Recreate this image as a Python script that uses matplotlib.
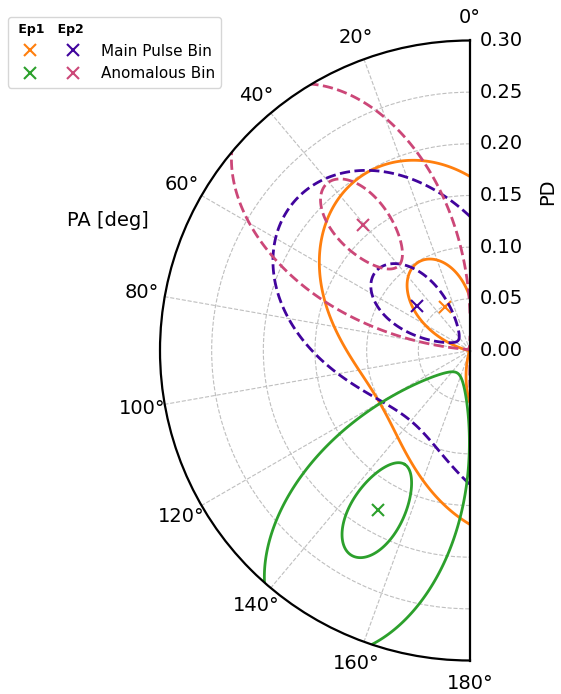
import numpy as np
import matplotlib
matplotlib.use("Agg")
import matplotlib.pyplot as plt
from matplotlib.lines import Line2D
from matplotlib.legend_handler import HandlerTuple

# Polarization results: PA in degrees, PD as a fraction, 1-sigma error on Q/U
bin_labels = ["Main Pulse Bin", "Anomalous Bin"]
ep1_pa = [30.0, 150.0]
ep1_pd = [0.049, 0.178]
ep1_sigma = [0.050, 0.051]
ep2_pa = [50.0, 40.5]
ep2_pd = [0.067, 0.160]
ep2_sigma = [0.052, 0.0528]
sigma_levels = [1.0, 3.0]

ep1_colors = ["#ff7f0e", "#2ca02c"]
ep2_colors = ["#41049d", "#cc4778"]

theta_ticks = [0, 20, 40, 60, 80, 100, 120, 140, 160, 180]
r_ticks = [0.00, 0.05, 0.10, 0.15, 0.20, 0.25, 0.30]
r_max = 0.30

W, H = 561, 694
fig = plt.figure(figsize=(W / 100, H / 100), dpi=100)
# the half-disk sits in the middle of a square axes box (pixel units below)
ax = fig.add_axes([5 / W, 33.5 / H, 620 / W, 620 / H], projection="polar")
ax.set_theta_zero_location("N")
ax.set_theta_direction(1)
ax.set_thetamin(0)
ax.set_thetamax(180)

# Q/U plane sampled on the polar grid (PA is half the Stokes angle)
th = np.linspace(0, np.pi, 1441)
rr = np.linspace(0, 0.36, 721)
TH, RR = np.meshgrid(th, rr)
Q = RR * np.cos(2 * TH)
U = RR * np.sin(2 * TH)


def draw_bin(pa, pd, sig, color, ls):
    q0 = pd * np.cos(2 * np.radians(pa))
    u0 = pd * np.sin(2 * np.radians(pa))
    dist = np.hypot(Q - q0, U - u0) / sig
    ax.contour(TH, RR, dist, levels=sigma_levels, colors=color,
               linestyles=ls, linewidths=2)
    ax.plot(np.radians(pa), pd, ls="none", marker="x", color=color,
            ms=9, mew=1.5)


for i in range(2):
    draw_bin(ep1_pa[i], ep1_pd[i], ep1_sigma[i], ep1_colors[i], "-")
    draw_bin(ep2_pa[i], ep2_pd[i], ep2_sigma[i], ep2_colors[i], "--")

ax.set_rlim(0, r_max)
ax.set_rticks(r_ticks)
ax.set_yticklabels([f"{v:.2f}" for v in r_ticks])
ax.set_thetagrids(theta_ticks, labels=[f"{t}°" for t in theta_ticks])
ax.grid(True, ls="--", color="0.75", lw=0.8)
ax.tick_params(labelsize=14)
ax.tick_params(axis="x", pad=6)
for sp in ax.spines.values():
    sp.set_linewidth(1.6)

fig.text(108 / W, 1 - 220 / H, "PA [deg]", fontsize=14, ha="center", va="center")
fig.text(548 / W, 1 - 192 / H, "PD", fontsize=14, rotation=90,
         ha="center", va="center")

handles = []
for i in range(2):
    h1 = Line2D([], [], ls="none", marker="x", color=ep1_colors[i], ms=9, mew=1.5)
    h2 = Line2D([], [], ls="none", marker="x", color=ep2_colors[i], ms=9, mew=1.5)
    handles.append((h1, h2))

leg = fig.legend(handles, bin_labels, loc="upper left",
                 bbox_to_anchor=(8 / W, 1 - 17 / H),
                 handler_map={tuple: HandlerTuple(ndivide=None, pad=0.7)},
                 handlelength=4.9, fontsize=11, title=" Ep1   Ep2",
                 title_fontproperties={"weight": "bold", "size": 9},
                 alignment="left", borderaxespad=0)

fig.savefig("out.png", dpi=100)
